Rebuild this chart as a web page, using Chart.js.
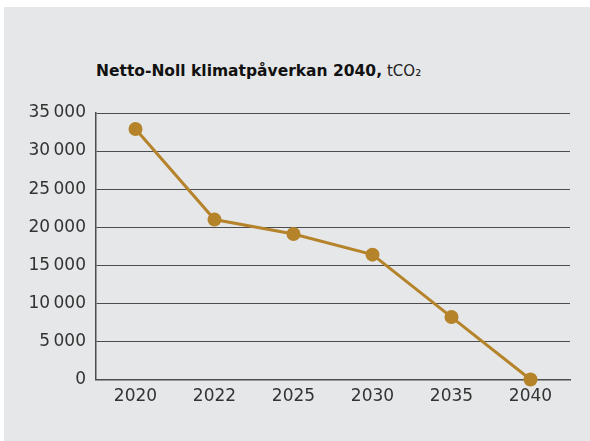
<!DOCTYPE html>
<html>
<head>
<meta charset="utf-8">
<script src="https://cdn.jsdelivr.net/npm/chart.js@4/dist/chart.umd.min.js"></script>
<style>
  html, body { margin: 0; padding: 0; background: #ffffff; }
  #panel { position: absolute; left: 4px; top: 7px; width: 586px; height: 434px; background: #e6e7e8; }
  #wrap { position: absolute; left: 0; top: 0; width: 590px; height: 441px; }
  #title { position: absolute; left: 96px; top: 62px; font-family: "DejaVu Sans", sans-serif; font-size: 15.5px; color: #111; white-space: nowrap; }
  #title b { font-weight: 700; }
  #title span { font-weight: 400; font-size: 15px; color: #222; }
</style>
</head>
<body>
<div id="panel"></div>
<div id="title"><b>Netto-Noll klimatpåverkan 2040,</b> <span>tCO₂</span></div>
<div id="wrap"><canvas id="c" width="590" height="441"></canvas></div>
<script>
const categories = ["2020", "2022", "2025", "2030", "2035", "2040"];
const emissions = [32900, 21000, 19100, 16400, 8200, 0];
const yTicks = [0, 5000, 10000, 15000, 20000, 25000, 30000, 35000];

const fmt = v => String(v).replace(/\B(?=(\d{3})+(?!\d))/g, "\u2009");

new Chart(document.getElementById("c"), {
  type: "line",
  data: {
    labels: categories,
    datasets: [{
      data: emissions,
      borderColor: "#b5832a",
      backgroundColor: "#b5832a",
      borderWidth: 3,
      pointRadius: 7,
      pointHoverRadius: 7,
      pointBackgroundColor: "#b5832a",
      pointBorderWidth: 0,
      tension: 0,
      clip: false
    }]
  },
  options: {
    responsive: false,
    animation: false,
    events: [],
    layout: { padding: { left: 0, right: 20, top: 113, bottom: 0 } },
    plugins: { legend: { display: false }, title: { display: false }, tooltip: { enabled: false } },
    scales: {
      x: {
        offset: true,
        grid: { display: false, drawTicks: false },
        border: { display: true, color: "#4d4d4d", width: 1.5 },
        ticks: { color: "#333", font: { family: "DejaVu Sans", size: 17 }, padding: 7, maxRotation: 0 },
        afterFit: s => { s.height = 61.5; }
      },
      y: {
        min: 0, max: 35000,
        afterBuildTicks: s => { s.ticks = yTicks.map(v => ({ value: v })); },
        grid: { color: "#4d4d4d", lineWidth: 1, drawTicks: false },
        border: { display: true, color: "#4d4d4d", width: 1.5 },
        ticks: { color: "#333", font: { family: "DejaVu Sans", size: 17 }, padding: 10, callback: v => fmt(v) },
        afterFit: s => { s.width = 96; }
      }
    }
  }
});
</script>
</body>
</html>
